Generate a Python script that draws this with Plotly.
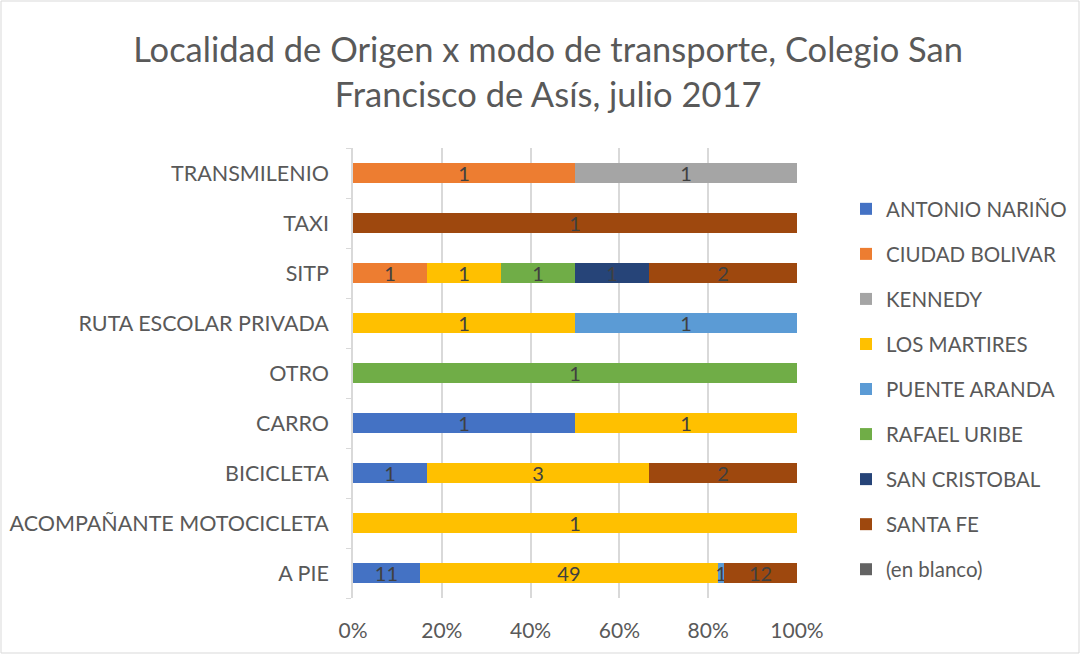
import plotly.graph_objects as go

categories = ["A PIE", "ACOMPAÑANTE MOTOCICLETA", "BICICLETA", "CARRO", "OTRO",
              "RUTA ESCOLAR PRIVADA", "SITP", "TAXI", "TRANSMILENIO"]

series_names = ["ANTONIO NARIÑO", "CIUDAD BOLIVAR", "KENNEDY", "LOS MARTIRES",
                "PUENTE ARANDA", "RAFAEL URIBE", "SAN CRISTOBAL", "SANTA FE", "(en blanco)"]

antonio_narino = [11, None, 1, 1, None, None, None, None, None]
ciudad_bolivar = [None, None, None, None, None, None, 1, None, 1]
kennedy = [None, None, None, None, None, None, None, None, 1]
los_martires = [49, 1, 3, 1, None, 1, 1, None, None]
puente_aranda = [1, None, None, None, None, 1, None, None, None]
rafael_uribe = [None, None, None, None, 1, None, 1, None, None]
san_cristobal = [None, None, None, None, None, None, 1, None, None]
santa_fe = [12, None, 2, None, None, None, 2, 1, None]
en_blanco = [None] * 9

series_values = [antonio_narino, ciudad_bolivar, kennedy, los_martires, puente_aranda,
                 rafael_uribe, san_cristobal, santa_fe, en_blanco]

colors = ["#4472C4", "#ED7D31", "#A5A5A5", "#FFC000", "#5B9BD5",
          "#70AD47", "#264478", "#9E480E", "#636363"]

FONT = "Lato, Liberation Sans, Arial"

fig = go.Figure()
for name, vals, col in zip(series_names, series_values, colors):
    fig.add_trace(go.Bar(
        y=categories, x=vals, name=name, orientation="h",
        marker=dict(color=col, line=dict(width=0)),
        text=vals, texttemplate="%{text}", textposition="inside",
        insidetextanchor="middle", textangle=0,
        textfont=dict(color="#404040", size=20, family=FONT),
        legendgroup=name, cliponaxis=False,
    ))

W, H = 1081, 655
L, R, T, B = 353, 284, 148, 57
pw, ph = W - L - R, H - T - B

fig.update_layout(
    width=W, height=H,
    barmode="stack", barnorm="percent", bargap=0.6,
    margin=dict(l=L, r=R, t=T, b=B, autoexpand=False),
    paper_bgcolor="white", plot_bgcolor="white",
    font=dict(family=FONT, color="#595959", size=20),
    title=dict(text="Localidad de Origen x modo de transporte, Colegio San<br>Francisco de Asís, julio 2017",
               x=0.507, xanchor="center", yref="container", y=1 - 62 / H, yanchor="top",
               font=dict(size=34.5, color="#595959", family=FONT)),
    uniformtext=dict(minsize=20, mode="show"),
    legend=dict(x=(846 - L) / pw, xanchor="left", y=1 - (189 - T) / ph, yanchor="top",
                traceorder="grouped", tracegroupgap=15.4, font=dict(size=20.5, color="#595959", family=FONT),
                itemwidth=30, bgcolor="rgba(0,0,0,0)"),
    xaxis=dict(range=[0, 100], tickvals=[0, 20, 40, 60, 80, 100],
               ticktext=["0%", "20%", "40%", "60%", "80%", "100%"],
               showgrid=True, gridcolor="#D9D9D9", gridwidth=1.5, zeroline=False, automargin=False,
               ticks="", ticklabelstandoff=18, tickfont=dict(size=21, color="#595959", family=FONT)),
    yaxis=dict(categoryorder="array", categoryarray=categories, automargin=False,
               showline=True, linecolor="#D9D9D9", linewidth=1.5,
               ticks="outside", tickson="boundaries", ticklen=5, tickcolor="#D9D9D9",
               ticklabelstandoff=18, tickfont=dict(size=21.5, color="#595959", family=FONT)),
    shapes=[dict(type="rect", xref="paper", yref="paper",
                 x0=-(L - 1) / pw, x1=1 + (R - 2) / pw,
                 y0=-(B - 2) / ph, y1=1 + (T - 1) / ph,
                 line=dict(color="#D9D9D9", width=1))],
)

fig.write_html("out.html", config={"displayModeBar": False},
               post_script="document.body.style.margin='0';document.body.style.overflow='hidden';")
